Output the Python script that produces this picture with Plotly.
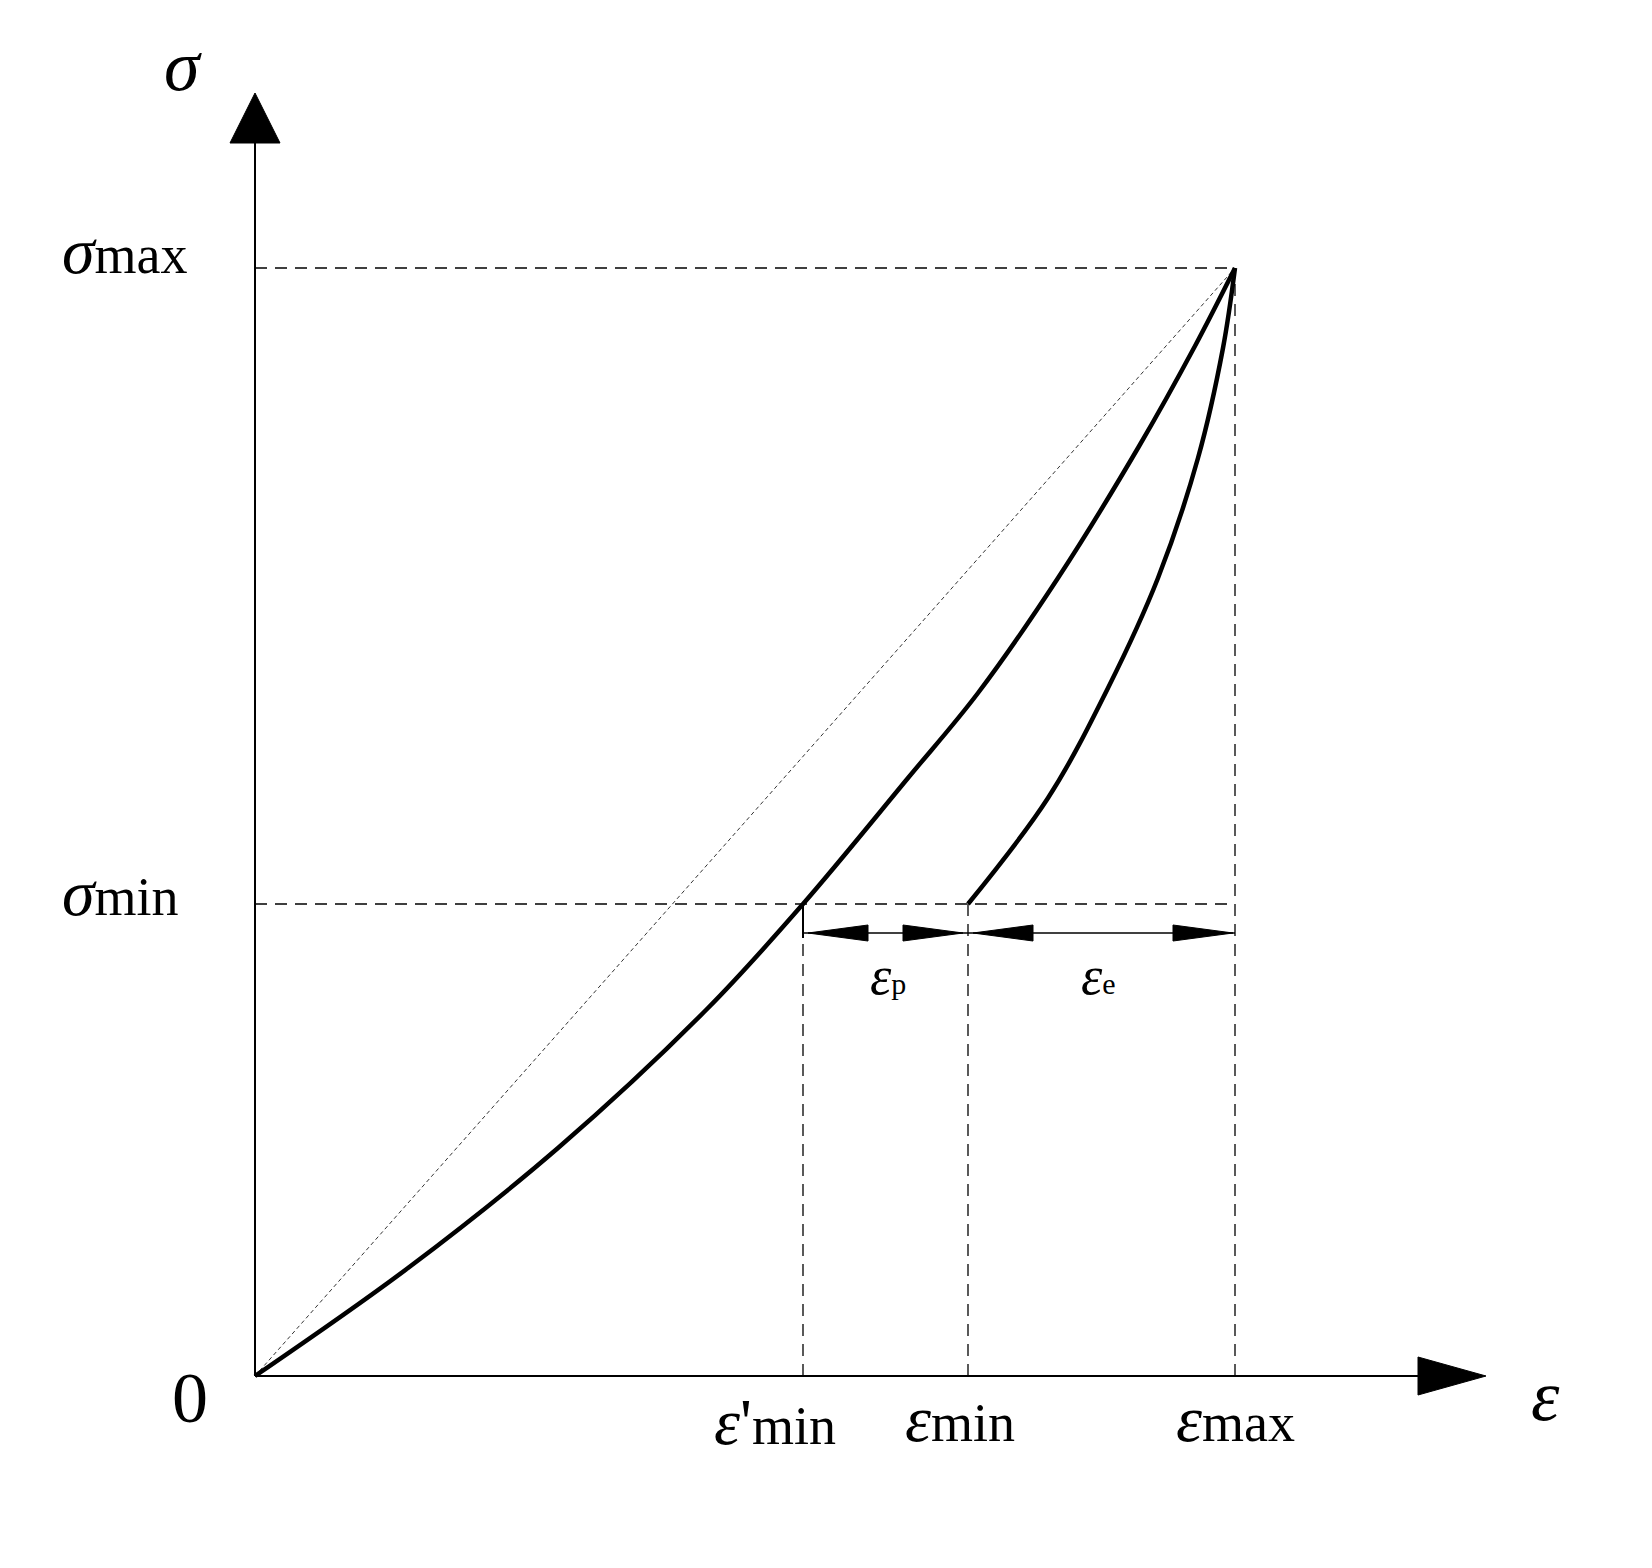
import plotly.graph_objects as go

# key strain / stress levels (drawing units)
eps_min_p = 548
eps_min = 713
eps_max = 980
sig_min = 472
sig_max = 1108
x_axis_end = 1231
y_axis_end = 1283

# loading curve 0 -> (eps_max, sig_max)
load_x = [0, 153, 303, 453, 548, 653, 723, 803, 883, 940, 980]
load_y = [0, 108, 228, 368, 472, 598, 683, 798, 928, 1030, 1108]
# unloading curve (eps_min, sig_min) -> (eps_max, sig_max)
unload_x = [713, 793, 853, 903, 943, 968, 980]
unload_y = [472, 578, 688, 798, 918, 1028, 1108]

dim_y = sig_min - 29

fig = go.Figure()


def line(x, y, width=1.5, dash=None, shape="linear"):
    fig.add_trace(go.Scatter(x=x, y=y, mode="lines",
                             line=dict(color="black", width=width, dash=dash, shape=shape),
                             showlegend=False, hoverinfo="skip"))


def tri(tip_x, tip_y, dx, dy, length, half):
    # filled triangle: tip at (tip_x,tip_y), pointing in direction (dx,dy)
    bx, by = tip_x - dx * length, tip_y - dy * length
    px, py = -dy * half, dx * half
    fig.add_trace(go.Scatter(x=[tip_x, bx + px, bx - px, tip_x], y=[tip_y, by + py, by - py, tip_y],
                             mode="lines", fill="toself", fillcolor="black", line=dict(color="black", width=1),
                             showlegend=False, hoverinfo="skip"))


# axes
line([0, x_axis_end - 60], [0, 0], 2)
line([0, 0], [0, y_axis_end - 45], 2)
tri(x_axis_end, 0, 1, 0, 68, 19)
tri(0, y_axis_end, 0, 1, 50, 25)

# dashed guides
dash = "12px,8px"
line([0, eps_max], [sig_max, sig_max], 1.3, dash)
line([0, eps_max], [sig_min, sig_min], 1.3, dash)
line([eps_max, eps_max], [0, sig_max], 1.3, dash)
line([eps_min, eps_min], [0, sig_min], 1.3, dash)
line([eps_min_p, eps_min_p], [0, dim_y], 1.3, dash)
line([eps_min_p, eps_min_p], [dim_y - 5, sig_min], 2)
line([0, eps_max], [0, sig_max], 0.8, "4px,3px")

# curves
line(load_x, load_y, 4.5, shape="spline")
line(unload_x, unload_y, 4.5, shape="spline")

# dimension line with arrows
line([eps_min_p, eps_max], [dim_y, dim_y], 1.3)
for tx, d in [(eps_min_p + 5, -1), (eps_min - 5, 1), (eps_min + 5, -1), (eps_max - 2, 1)]:
    tri(tx, dim_y, d, 0, 60, 8)

F = "Liberation Serif"
def lab(x, y, t, s):
    fig.add_annotation(x=x, y=y, text=t, showarrow=False, font=dict(family=F, size=s, color="black"))

lab(-72, 1310, "<i>σ</i>", 72)
lab(-130, 1126, "<span style='font-size:66px'><i>σ</i></span>max", 54)
lab(-135, 484, "<span style='font-size:66px'><i>σ</i></span>min", 54)
lab(-65, -22, "0", 72)
lab(1290, -20, "<i>ε</i>", 72)
lab(520, -45, "<span style='font-size:66px'><i>ε</i>'</span>min", 54)
lab(705, -42, "<span style='font-size:66px'><i>ε</i></span>min", 54)
lab(980, -42, "<span style='font-size:66px'><i>ε</i></span>max", 54)
lab(633, 400, "<i>ε</i><span style='font-size:30px'>p</span>", 54)
lab(843, 400, "<i>ε</i><span style='font-size:30px'>e</span>", 54)

fig.update_xaxes(range=[-247, 1405], visible=False)
fig.update_yaxes(range=[-200, 1368], visible=False)
fig.update_layout(width=1652, height=1568, margin=dict(l=0, r=0, t=0, b=0),
                  plot_bgcolor="white", paper_bgcolor="white")
fig.write_html("out.html")
